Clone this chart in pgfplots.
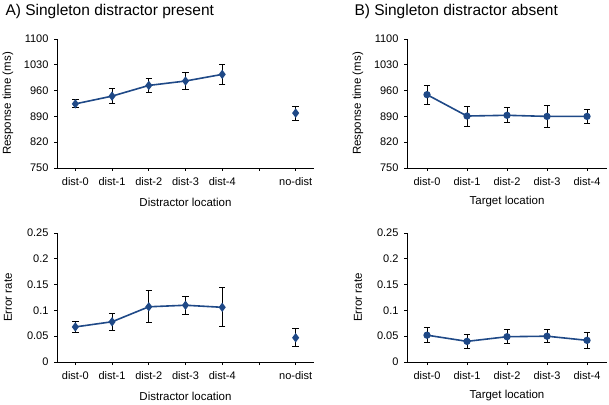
\documentclass[border=0pt]{standalone}
\usepackage{fontspec}
\setmainfont{Liberation Sans}
\usepackage{pgfplots}
\pgfplotsset{compat=1.18}
\definecolor{lineblue}{RGB}{31,73,135}

\pgfplotsset{
  panel/.style={
    scale only axis,
    axis lines*=left,
    axis line style={black, line width=0.9pt},
    tick align=outside,
    major tick length=3pt,
    tick style={black, line width=0.8pt},
    font=\fontsize{11}{13}\selectfont,
    /pgf/number format/assume math mode=true,
    /pgf/number format/1000 sep={},
    yticklabel style={xshift=-2pt},
    xticklabel style={yshift=-2.5pt},
    every axis y label/.style={at={(rel axis cs:0,0.5)}, xshift=-49pt,
      rotate=90, anchor=center, font=\fontsize{11.5}{13}\selectfont},
    every axis x label/.style={at={(rel axis cs:0.5,0)}, yshift=-34pt,
      anchor=center, font=\fontsize{11.5}{13}\selectfont},
    clip=false,
  },
  rt/.style={ymin=750, ymax=1100, ytick={750,820,...,1100}, ylabel={Response time (ms)}},
  er/.style={ymin=0, ymax=0.25, ytick={0,0.05,...,0.26},
    yticklabels={0,0.05,0.1,0.15,0.2,0.25}, ylabel={Error rate}},
  seven/.style={width=257pt, height=129pt, xmin=-0.5, xmax=6.5,
    xtick={0,...,6}, xticklabels={dist-0,dist-1,dist-2,dist-3,dist-4,,no-dist},
    xlabel={Distractor location}},
  five/.style={width=200pt, height=129pt, xmin=-0.5, xmax=4.5,
    xtick={0,...,4}, xticklabels={dist-0,dist-1,dist-2,dist-3,dist-4},
    xlabel={Target location}},
  ser/.style={lineblue, line width=1.6pt, mark options={solid, fill=lineblue, draw=lineblue},
    error bars/y dir=both, error bars/y explicit,
    error bars/error bar style={black, line width=0.9pt},
    error bars/error mark options={rotate=90, black, mark size=3.2pt, line width=0.9pt}},
}

\begin{document}
\begin{tikzpicture}
\useasboundingbox (0,0) rectangle (609pt,404pt);

\node[anchor=west, font=\fontsize{15.5}{18}\selectfont] at (2pt,393pt) {A) Singleton distractor present};
\node[anchor=west, font=\fontsize{15.5}{18}\selectfont] at (351pt,393pt) {B) Singleton distractor absent};

% A, response time
\begin{axis}[panel, rt, seven, at={(57pt,236pt)}, anchor=south west]
\addplot+[ser, mark=diamond*, mark size=3.4pt] coordinates {
  (0,924) +- (0,11)
  (1,945) +- (0,20)
  (2,974) +- (0,19.5)
  (3,986) +- (0,24)
  (4,1004) +- (0,26)
};
\addplot+[ser, only marks, mark=diamond*, mark size=3.4pt] coordinates {
  (6,899) +- (0,19)
};
\end{axis}

% B, response time
\begin{axis}[panel, rt, five, at={(407pt,236pt)}, anchor=south west]
\addplot+[ser, mark=*, mark size=2.8pt] coordinates {
  (0,949) +- (0,26)
  (1,891) +- (0,27)
  (2,893) +- (0,20)
  (3,890) +- (0,30)
  (4,890) +- (0,20)
};
\end{axis}

% A, error rate
\begin{axis}[panel, er, seven, at={(57pt,42pt)}, anchor=south west]
\addplot+[ser, mark=diamond*, mark size=3.4pt] coordinates {
  (0,0.068) +- (0,0.011)
  (1,0.078) +- (0,0.016)
  (2,0.107) +- (0,0.031)
  (3,0.110) +- (0,0.017)
  (4,0.106) +- (0,0.038)
};
\addplot+[ser, only marks, mark=diamond*, mark size=3.4pt] coordinates {
  (6,0.047) +- (0,0.0175)
};
\end{axis}

% B, error rate
\begin{axis}[panel, er, five, at={(407pt,42pt)}, anchor=south west]
\addplot+[ser, mark=*, mark size=2.8pt] coordinates {
  (0,0.052) +- (0,0.015)
  (1,0.040) +- (0,0.013)
  (2,0.049) +- (0,0.014)
  (3,0.050) +- (0,0.013)
  (4,0.042) +- (0,0.0155)
};
\end{axis}
\end{tikzpicture}
\end{document}
